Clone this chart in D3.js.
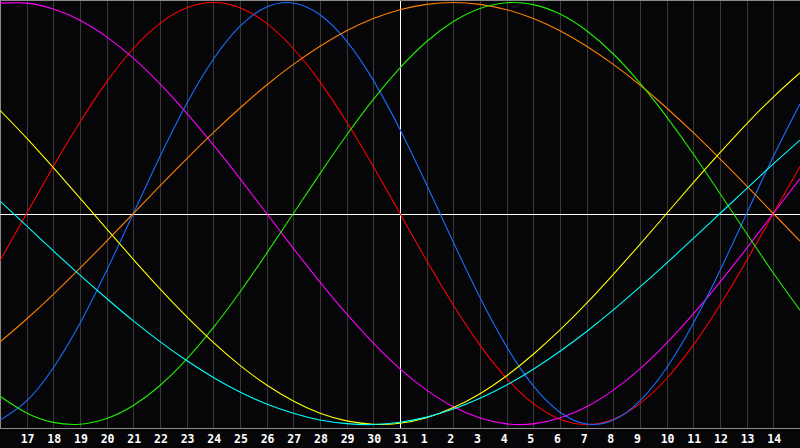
<!DOCTYPE html>
<html>
<head>
<meta charset="utf-8">
<script src="https://cdn.jsdelivr.net/npm/d3@7"></script>
<style>
  html, body { margin: 0; padding: 0; background: #060609; }
  svg { display: block; }
</style>
</head>
<body>
<svg id="chart"></svg>
<script>
// day labels along the bottom (one per grid line)
var dayLabels = ["17","18","19","20","21","22","23","24","25","26","27","28","29","30","31",
                 "1","2","3","4","5","6","7","8","9","10","11","12","13","14"];

// curve values, one per day column (index 0 = left edge, 30 = right edge)
var red = [-0.223,0,0.223,0.434,0.624,0.782,0.901,0.975,1,0.975,0.901,0.782,0.624,0.434,0.223,0,
           -0.223,-0.434,-0.624,-0.782,-0.901,-0.975,-1,-0.975,-0.901,-0.782,-0.624,-0.434,-0.223,0,0.223];
var magenta = [0.997,0.997,0.969,0.916,0.837,0.736,0.614,0.476,0.325,0.165,0,-0.165,-0.325,-0.476,-0.614,-0.736,
               -0.837,-0.916,-0.969,-0.997,-0.997,-0.969,-0.916,-0.837,-0.736,-0.614,-0.476,-0.325,-0.165,0,0.165];
var blue = [-0.979,-0.888,-0.731,-0.520,-0.270,0,0.270,0.520,0.731,0.888,0.979,0.998,0.942,0.817,0.631,0.398,
            0.136,-0.136,-0.398,-0.631,-0.817,-0.942,-0.998,-0.979,-0.888,-0.731,-0.520,-0.270,0,0.270,0.520];
var orange = [-0.609,-0.5,-0.383,-0.259,-0.131,0,0.131,0.259,0.383,0.5,0.609,0.707,0.793,0.866,0.924,0.966,
              0.991,1,0.991,0.966,0.924,0.866,0.793,0.707,0.609,0.5,0.383,0.259,0.131,0,-0.131];
var green = [-0.866,-0.945,-0.990,-0.999,-0.972,-0.910,-0.815,-0.690,-0.541,-0.372,-0.189,0,0.189,0.372,0.541,0.690,
             0.815,0.910,0.972,0.999,0.990,0.945,0.866,0.756,0.618,0.458,0.282,0.095,-0.095,-0.282,-0.458];
var yellow = [0.489,0.357,0.217,0.073,-0.073,-0.217,-0.357,-0.489,-0.611,-0.720,-0.813,-0.889,-0.947,-0.983,-0.999,-0.994,
              -0.968,-0.920,-0.854,-0.769,-0.667,-0.552,-0.425,-0.288,-0.146,0,0.146,0.288,0.425,0.552,0.667];
var cyan = [0.059,-0.059,-0.177,-0.292,-0.403,-0.509,-0.607,-0.697,-0.777,-0.846,-0.903,-0.947,-0.979,-0.996,-1,-0.989,
            -0.965,-0.927,-0.876,-0.813,-0.738,-0.653,-0.559,-0.457,-0.348,-0.235,-0.118,0,0.118,0.235,0.348];

var width = 800,
    height = 448,
    axisY = 428;

var series = [
  {values: red, color: "#ff0000"},
  {values: magenta, color: "#ff00ff"},
  {values: blue, color: "#1a6cff"},
  {values: orange, color: "#ff8000"},
  {values: green, color: "#22ee00"},
  {values: yellow, color: "#ffff00"},
  {values: cyan, color: "#00ffff"}
];

var x = d3.scaleLinear().domain([0, 30]).range([0, width]),
    y = d3.scaleLinear().domain([-1, 1]).range([424.5, 2.5]);

var svg = d3.select("#chart")
    .attr("width", width)
    .attr("height", height);

svg.append("rect")
    .attr("width", width).attr("height", height)
    .attr("fill", "#060609");

// vertical grid
var gridAxis = d3.axisBottom(x)
    .tickValues(d3.range(1, 30))
    .tickSize(-axisY)
    .tickFormat("");

var grid = svg.append("g")
    .attr("transform", "translate(0," + axisY + ")")
    .call(gridAxis);
grid.select(".domain").remove();
grid.selectAll(".tick line")
    .attr("stroke", function(d){ return d === 15 ? "#ffffff" : "#383838"; })
    .attr("shape-rendering", "crispEdges");

// frame: top, left, bottom axis line
svg.append("line").attr("x1", 0).attr("x2", width).attr("y1", 0.5).attr("y2", 0.5)
    .attr("stroke", "#8a8a8a");
svg.append("line").attr("x1", 0.5).attr("x2", 0.5).attr("y1", 0).attr("y2", axisY)
    .attr("stroke", "#8a8a8a");
svg.append("line").attr("x1", 0).attr("x2", width).attr("y1", axisY + 0.5).attr("y2", axisY + 0.5)
    .attr("stroke", "#8a8a8a");

// zero line
svg.append("line")
    .attr("x1", 0).attr("x2", width)
    .attr("y1", 214.5).attr("y2", 214.5)
    .attr("stroke", "#ffffff")
    .attr("shape-rendering", "crispEdges");

// curves
var line = d3.line()
    .x(function(d, i){ return x(i); })
    .y(function(d){ return y(d); })
    .curve(d3.curveNatural);

svg.selectAll("path.curve")
    .data(series)
  .enter()
    .append("path")
    .attr("class", "curve")
    .attr("fill", "none")
    .attr("stroke", function(d){ return d.color; })
    .attr("stroke-width", 1.1)
    .attr("d", function(d){ return line(d.values); });

// day labels
var labelAxis = d3.axisBottom(x)
    .tickValues(d3.range(1, 30))
    .tickSize(0)
    .tickFormat(function(d){ return dayLabels[d - 1]; });

var labels = svg.append("g")
    .attr("transform", "translate(0," + axisY + ")")
    .call(labelAxis);
labels.select(".domain").remove();
labels.selectAll(".tick text")
    .attr("fill", "#ffffff")
    .attr("text-anchor", "start")
    .attr("x", -6.5)
    .attr("y", 15)
    .attr("dy", 0)
    .style("font-family", "'DejaVu Sans Mono', monospace")
    .style("font-weight", "bold")
    .style("font-size", "11.5px");
</script>
</body>
</html>
